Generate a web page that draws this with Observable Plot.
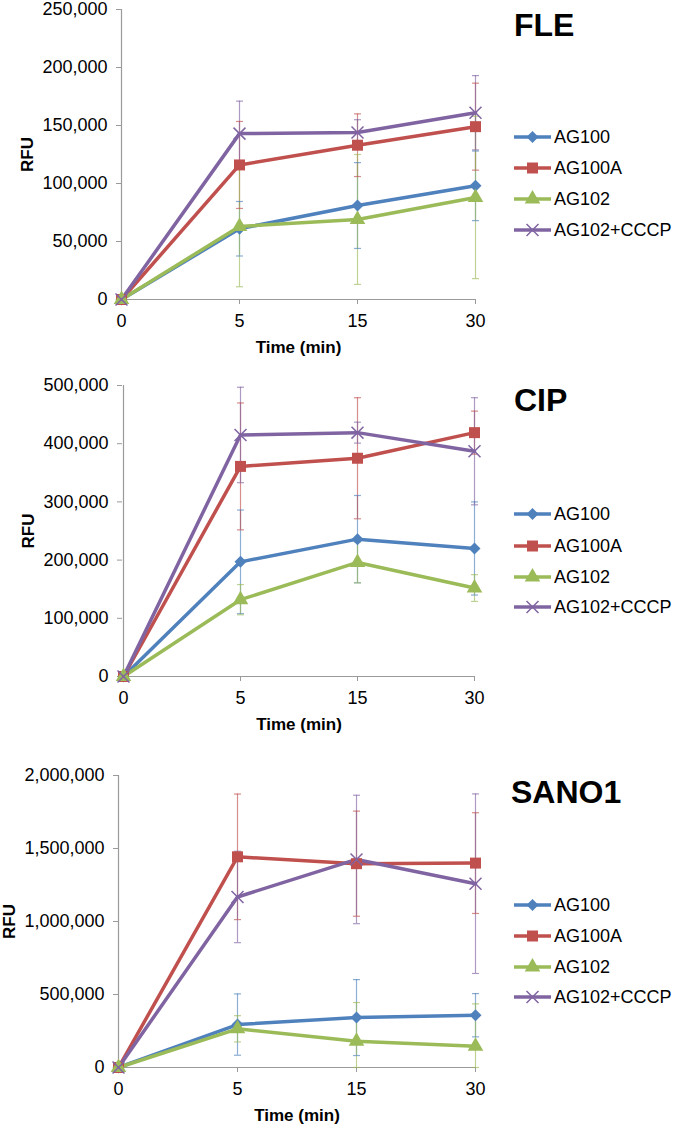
<!DOCTYPE html>
<html>
<head>
<meta charset="utf-8">
<script src="https://cdn.jsdelivr.net/npm/d3@7"></script>
<script src="https://cdn.jsdelivr.net/npm/@observablehq/plot@0.6"></script>
<style>
body { margin: 0; background: #fff; font-family: "Liberation Sans", Arial, sans-serif; }
.panel { position: relative; width: 675px; overflow: hidden; }
.panel > svg { display: block; }
.title { position: absolute; font-weight: bold; font-size: 32px; line-height: 1; color: #000; }
.key { position: absolute; left: 514px; height: 20px; margin-top: -10px; display: flex; align-items: center; font-size: 18px; color: #000; }
.key svg { display: block; }
g[aria-label="x-axis label"], g[aria-label="y-axis label"] { font-weight: bold; font-size: 17px; }
</style>
</head>
<body>
<div id="charts"></div>
<script>
// time points (categorical, evenly spaced like the original)
const times = ["0", "5", "15", "30"];
const series = ["AG100", "AG100A", "AG102", "AG102+CCCP"];
const colors = ["#4F81BD", "#C0504D", "#9BBB59", "#8064A2"];

// FLE
const fleMean = [
  [0, 61000, 81000, 98000],
  [0, 116000, 133000, 149000],
  [0, 63000, 69000, 88000],
  [0, 143000, 144000, 161000]
];
const fleErr = [
  [0, 23500, 37000, 30000],
  [0, 37500, 27000, 37500],
  [0, 52000, 56000, 70000],
  [0, 28000, 11000, 32000]
];
const fleTicks = [0, 50000, 100000, 150000, 200000, 250000];

// CIP
const cipMean = [
  [0, 197000, 236000, 220000],
  [0, 361000, 375000, 419000],
  [0, 132000, 196000, 152000],
  [0, 415000, 419000, 387000]
];
const cipErr = [
  [0, 89000, 75000, 80000],
  [0, 109000, 104000, 37000],
  [0, 26000, 35000, 23000],
  [0, 82000, 18000, 92000]
];
const cipTicks = [0, 100000, 200000, 300000, 400000, 500000];

// SANO1
const sanoMean = [
  [0, 294000, 342000, 358000],
  [0, 1443000, 1396000, 1400000],
  [0, 265000, 180000, 146000],
  [0, 1168000, 1425000, 1259000]
];
const sanoErr = [
  [0, 210000, 260000, 148000],
  [0, 430000, 360000, 345000],
  [0, 90000, 265000, 290000],
  [0, 313000, 440000, 615000]
];
const sanoTicks = [0, 500000, 1000000, 1500000, 2000000];

const panels = [
  {title: "FLE", mean: fleMean, err: fleErr, ticks: fleTicks,
   height: 365, marginTop: 9, marginBottom: 66, marginLeft: 121, yLabelOffset: 101,
   titleLeft: 514, titleTop: 9, keyY: [137, 168, 199, 230]},
  {title: "CIP", mean: cipMean, err: cipErr, ticks: cipTicks,
   height: 380, marginTop: 20, marginBottom: 69, marginLeft: 122, yLabelOffset: 101,
   titleLeft: 514, titleTop: 19, keyY: [149, 181, 212, 242]},
  {title: "SANO1", mean: sanoMean, err: sanoErr, ticks: sanoTicks,
   height: 383, marginTop: 30, marginBottom: 61, marginLeft: 118, yLabelOffset: 116,
   titleLeft: 511, titleTop: 31, keyY: [160, 191, 222, 252]}
];

const fills = ["diamond2", "square", "triangle"];
const d3Symbols = [d3.symbolDiamond2, d3.symbolSquare, d3.symbolTriangle, d3.symbolTimes];
const markerR = [5.4, 6.2, 5.8, 5.5];

// small horizontal bar used for error bar caps
const cap = {
  draw(context, size) {
    const w = Math.sqrt(size / Math.PI);
    context.moveTo(-w, 0);
    context.lineTo(w, 0);
  }
};

const root = d3.select("#charts");

panels.forEach(p => {
  const rows = series.flatMap((s, i) => times.map((t, j) => ({
    series: s, time: t, value: p.mean[i][j], err: p.err[i][j]
  })));
  const bars = rows.filter(d => d.err > 0);
  const low = d => Math.max(0, d.value - d.err);
  const high = d => d.value + d.err;

  const chart = Plot.plot({
    width: 675,
    height: p.height,
    marginTop: p.marginTop,
    marginBottom: p.marginBottom,
    marginLeft: p.marginLeft,
    marginRight: 200,
    style: {fontFamily: "Liberation Sans, Arial, sans-serif", fontSize: "18px", color: "black", overflow: "visible"},
    x: {type: "point", domain: times, padding: 0},
    y: {domain: [0, p.ticks[p.ticks.length - 1]]},
    color: {domain: series, range: colors},
    marks: [
      Plot.ruleY([0], {stroke: "#9a9a9a", strokeWidth: 1.2}),
      Plot.ruleX([times[0]], {stroke: "#9a9a9a", strokeWidth: 1.2}),
      Plot.axisX({
        tickSize: 5, tickPadding: 10, stroke: "#9a9a9a", fill: "black",
        label: "Time (min)", labelAnchor: "center", labelArrow: "none", labelOffset: 53
      }),
      Plot.axisY({
        ticks: p.ticks, tickFormat: d3.format(","), tickSize: 5, tickPadding: 9,
        stroke: "#9a9a9a", fill: "black",
        label: "RFU", labelAnchor: "center", labelArrow: "none", labelOffset: p.yLabelOffset
      }),
      Plot.ruleX(bars, {x: "time", y1: low, y2: high, stroke: "series", strokeWidth: 1.2, strokeOpacity: 0.65}),
      Plot.dot(bars, {x: "time", y: low, symbol: cap, r: 3.5, stroke: "series", strokeWidth: 1.2, strokeOpacity: 0.65}),
      Plot.dot(bars, {x: "time", y: high, symbol: cap, r: 3.5, stroke: "series", strokeWidth: 1.2, strokeOpacity: 0.65}),
      Plot.line(rows, {x: "time", y: "value", z: "series", stroke: "series", strokeWidth: 3.5, curve: "linear"}),
      ...series.slice(0, 3).map((s, i) => Plot.dot(rows.filter(d => d.series === s), {
        x: "time", y: "value", fill: "series", symbol: fills[i], r: markerR[i], stroke: "none"
      })),
      Plot.dot(rows.filter(d => d.series === series[3]), {
        x: "time", y: "value", stroke: "series", symbol: "times", r: markerR[3], strokeWidth: 1.5
      })
    ]
  });

  const panel = root.append("div").attr("class", "panel").style("height", p.height + "px");
  panel.append(() => chart);

  panel.append("div").attr("class", "title")
    .style("left", p.titleLeft + "px").style("top", p.titleTop + "px")
    .text(p.title);

  series.forEach((s, i) => {
    const row = panel.append("div").attr("class", "key").style("top", p.keyY[i] + "px");
    const g = row.append("svg").attr("width", 40).attr("height", 20);
    g.append("line").attr("x1", 0).attr("x2", 37).attr("y1", 10).attr("y2", 10)
      .attr("stroke", colors[i]).attr("stroke-width", 3.5);
    const path = g.append("path").attr("transform", "translate(18.5,10)")
      .attr("d", d3.symbol(d3Symbols[i], Math.PI * markerR[i] * markerR[i])());
    if (i === 3) path.attr("fill", "none").attr("stroke", colors[i]).attr("stroke-width", 1.5);
    else path.attr("fill", colors[i]);
    row.append("span").text(s);
  });
});
</script>
</body>
</html>
